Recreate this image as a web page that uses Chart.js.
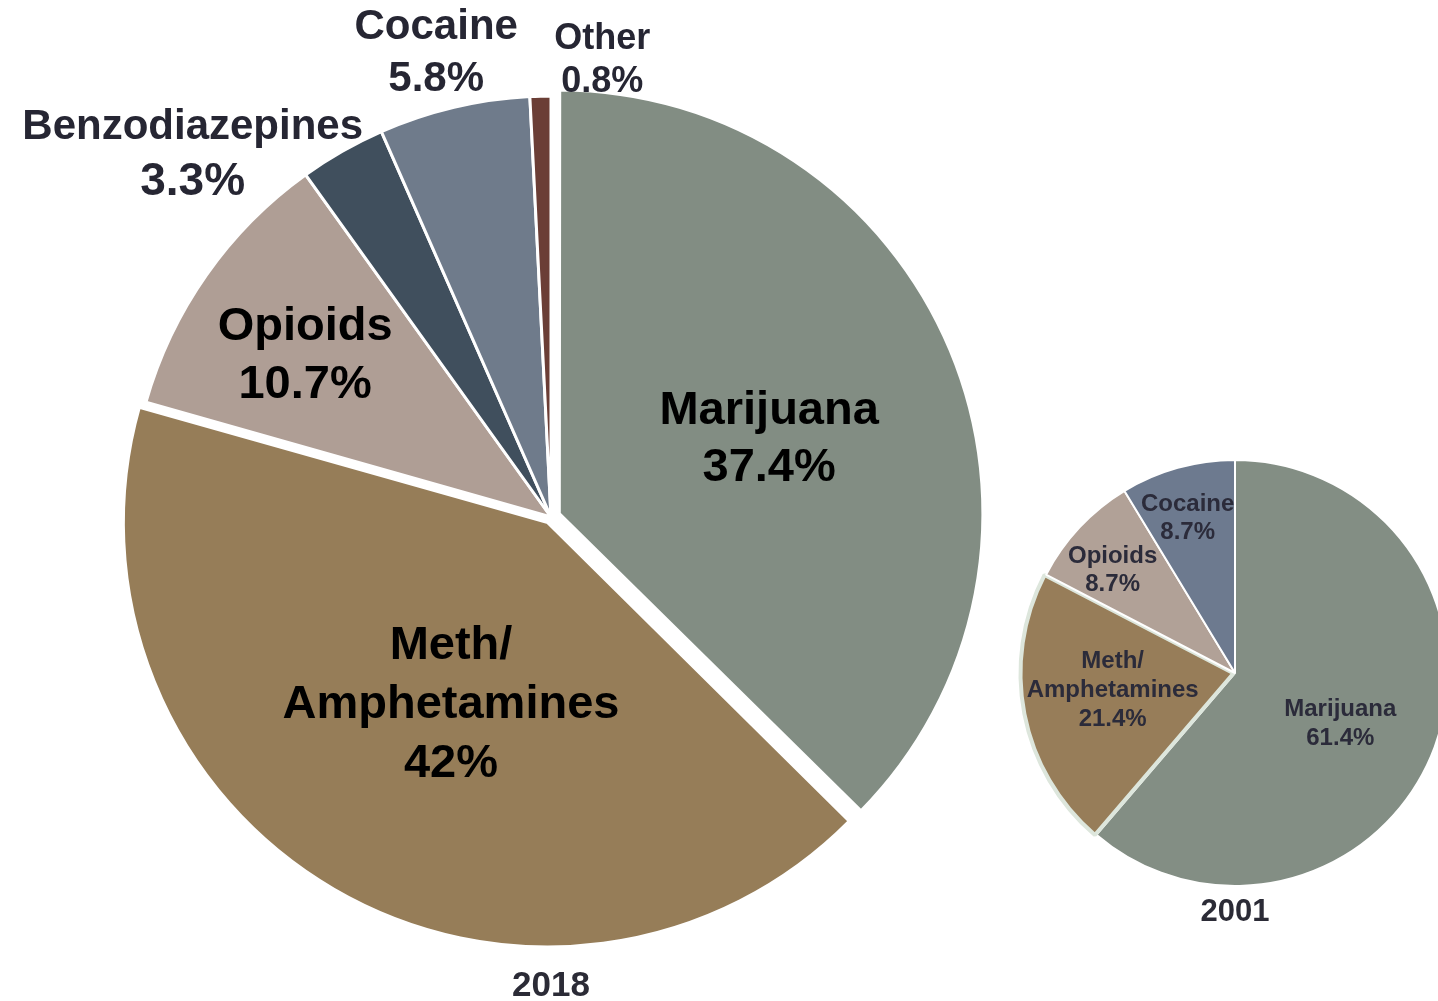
<!DOCTYPE html>
<html>
<head>
<meta charset="utf-8">
<script src="https://cdn.jsdelivr.net/npm/chart.js@4.4.1/dist/chart.umd.min.js"></script>
<style>
  html, body { margin: 0; padding: 0; background: #fff; overflow: hidden; width: 1438px; height: 1001px; }
  canvas { position: absolute; }
  #chart2018 { left: 0; top: 0; }
  #chart2001 { left: 1000px; top: 420px; }
</style>
</head>
<body>
<canvas id="chart2018" width="1100" height="1001"></canvas>
<canvas id="chart2001" width="470" height="540"></canvas>
<script>
// 2018 treatment admissions by primary drug (%)
let drugs2018 = ["Marijuana", "Meth/|Amphetamines", "Opioids", "Benzodiazepines", "Cocaine", "Other"];
let share2018 = [37.4, 42, 10.7, 3.3, 5.8, 0.8];
let colors2018 = ["#828d83", "#967d58", "#af9e95", "#404f5d", "#6f7b8b", "#6b3e36"];

// 2001
let drugs2001 = ["Marijuana", "Meth/|Amphetamines", "Opioids", "Cocaine"];
let share2001 = [61.4, 21.4, 8.7, 8.7];
let colors2001 = ["#838e84", "#977d59", "#b1a197", "#6d7a8f"];

// draws the name + percent inside/around each slice, and the year under the pie
const pieLabels = {
  id: "pieLabels",
  afterDatasetsDraw(chart, args, opts) {
    const ctx = chart.ctx;
    const arcs = chart.getDatasetMeta(0).data;
    const values = chart.data.datasets[0].data;
    let cx0 = 0, cy0 = 0, R = 0;
    ctx.save();
    ctx.textAlign = "center";
    ctx.textBaseline = "middle";
    arcs.forEach((arc, i) => {
      const { x, y, outerRadius } = arc.getProps(["x", "y", "outerRadius"], true);
      cx0 = x; cy0 = y; R = outerRadius;
      const s = opts.spots[i];
      const ang = (s.angle - 90) * Math.PI / 180;
      const cx = x + Math.cos(ang) * outerRadius * s.r;
      const cy = y + Math.sin(ang) * outerRadius * s.r;
      const lines = opts.names[i].split("|");
      const all = lines.concat([values[i] + "%"]);
      ctx.fillStyle = s.color;
      all.forEach((txt, k) => {
        const size = k < lines.length ? s.nameSize : s.pctSize;
        ctx.font = "bold " + size + "px 'Liberation Sans', Arial, sans-serif";
        ctx.fillText(txt, cx, cy + (k - (all.length - 1) / 2) * s.gap);
      });
    });
    ctx.fillStyle = opts.captionColor;
    ctx.font = "bold " + opts.captionSize + "px 'Liberation Sans', Arial, sans-serif";
    ctx.fillText(opts.caption, cx0, cy0 + R + opts.captionGap);
    ctx.restore();
  }
};

new Chart("chart2018", {
  type: "pie",
  data: {
    labels: drugs2018,
    datasets: [
      {
        data: share2018,
        backgroundColor: colors2018,
        borderColor: "#fff",
        borderWidth: 3,
        offset: [36, 26, 0, 0, 0, 0],
        hoverOffset: 0,
      },
    ],
  },
  options: {
    responsive: false,
    animation: false,
    layout: { padding: { left: 110.5, right: 108.5, top: 76.5, bottom: 43.5 } },
    plugins: {
      legend: { display: false },
      tooltip: { enabled: false },
      pieLabels: {
        names: drugs2018,
        spots: [
          { r: 0.55, angle: 70.4, nameSize: 47, pctSize: 47, gap: 57, color: "#000" },
          { r: 0.506, angle: 208, nameSize: 47, pctSize: 47, gap: 59, color: "#000" },
          { r: 0.698, angle: 303.2, nameSize: 47, pctSize: 47, gap: 58, color: "#000" },
          { r: 1.21, angle: 315.3, nameSize: 42, pctSize: 46, gap: 55, color: "#262633" },
          { r: 1.135, angle: 346.1, nameSize: 42, pctSize: 42, gap: 52, color: "#262633" },
          { r: 1.092, angle: 6.4, nameSize: 36, pctSize: 36, gap: 43, color: "#262633" },
        ],
        caption: "2018",
        captionSize: 35,
        captionGap: 48,
        captionColor: "#2b2b36",
      },
    },
  },
  plugins: [pieLabels],
});

new Chart("chart2001", {
  type: "pie",
  data: {
    labels: drugs2001,
    datasets: [
      {
        data: share2001,
        backgroundColor: colors2001,
        borderColor: ["#fff", "#dde6dc", "#fff", "#fff"],
        borderWidth: [2, 4, 2, 2],
        offset: [0, 6, 0, 0],
        hoverOffset: 0,
      },
    ],
  },
  options: {
    responsive: false,
    animation: false,
    layout: { padding: { left: 17, right: 17, top: 35, bottom: 69 } },
    plugins: {
      legend: { display: false },
      tooltip: { enabled: false },
      pieLabels: {
        names: drugs2001,
        spots: [
          { r: 0.55, angle: 116, nameSize: 24, pctSize: 24, gap: 29, color: "#2b2b3a" },
          { r: 0.58, angle: 262, nameSize: 24, pctSize: 24, gap: 29, color: "#2b2b3a" },
          { r: 0.75, angle: 310, nameSize: 24, pctSize: 24, gap: 28, color: "#2b2b3a" },
          { r: 0.76, angle: 343, nameSize: 24, pctSize: 24, gap: 28, color: "#2b2b3a" },
        ],
        caption: "2001",
        captionSize: 31,
        captionGap: 26,
        captionColor: "#2b2b36",
      },
    },
  },
  plugins: [pieLabels],
});
</script>
</body>
</html>
